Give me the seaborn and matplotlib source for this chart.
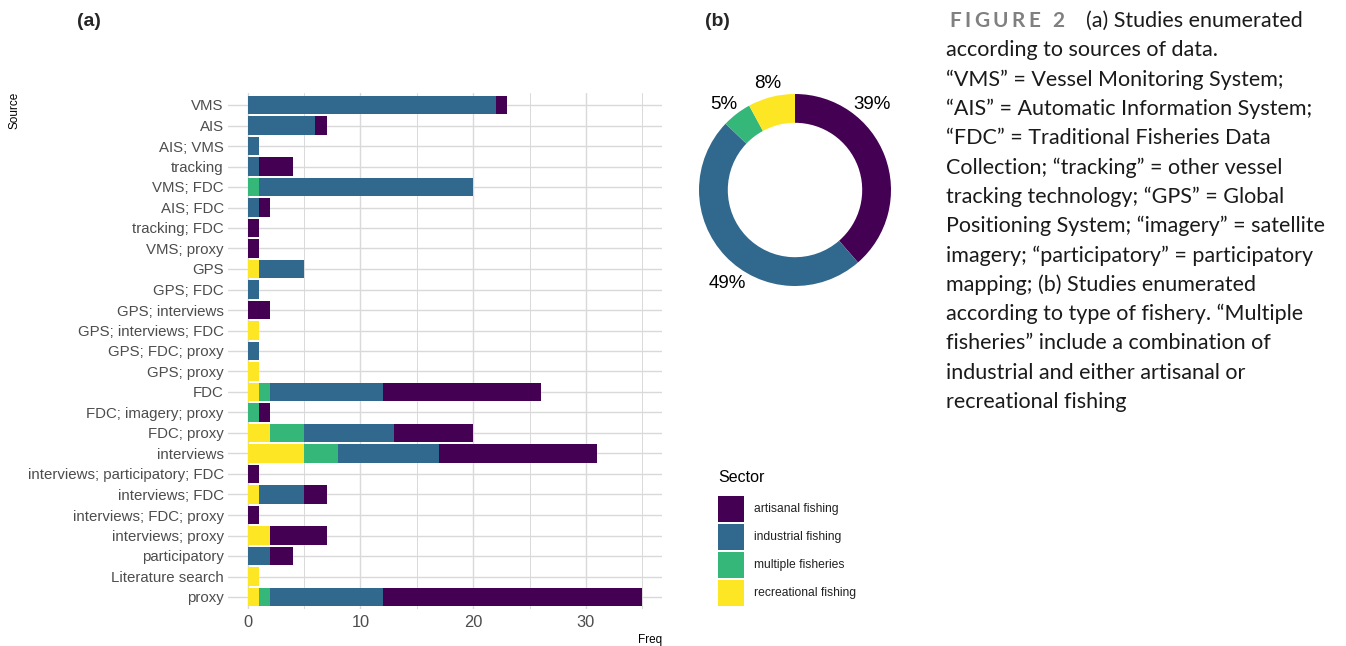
import numpy as np
import pandas as pd
import matplotlib
matplotlib.use("Agg")
import matplotlib.pyplot as plt
from matplotlib.patches import Rectangle
from matplotlib import font_manager
import seaborn as sns

# ---------------- data ----------------
sources = ["VMS", "AIS", "AIS; VMS", "tracking", "VMS; FDC", "AIS; FDC",
           "tracking; FDC", "VMS; proxy", "GPS", "GPS; FDC", "GPS; interviews",
           "GPS; interviews; FDC", "GPS; FDC; proxy", "GPS; proxy", "FDC",
           "FDC; imagery; proxy", "FDC; proxy", "interviews",
           "interviews; participatory; FDC", "interviews; FDC",
           "interviews; FDC; proxy", "interviews; proxy", "participatory",
           "Literature search", "proxy"]
artisanal    = [1, 1, 0, 3, 0, 1, 1, 1, 0, 0, 2, 0, 0, 0, 14, 1, 7, 14, 1, 2, 1, 5, 2, 0, 23]
industrial   = [22, 6, 1, 1, 19, 1, 0, 0, 4, 1, 0, 0, 1, 0, 10, 0, 8, 9, 0, 4, 0, 0, 2, 0, 10]
multiple     = [0, 0, 0, 0, 1, 0, 0, 0, 0, 0, 0, 0, 0, 0, 1, 1, 3, 3, 0, 0, 0, 0, 0, 0, 1]
recreational = [0, 0, 0, 0, 0, 0, 0, 0, 1, 0, 0, 1, 0, 1, 1, 0, 2, 5, 0, 1, 0, 2, 0, 1, 1]

sectors = ["artisanal fishing", "industrial fishing", "multiple fisheries", "recreational fishing"]
sector_pct = [39, 49, 5, 8]
x_ticks = [0, 10, 20, 30]

caption_lines = [
    "(a) Studies enumerated",
    "according to sources of data.",
    "\u201cVMS\u201d = Vessel Monitoring System;",
    "\u201cAIS\u201d = Automatic Information System;",
    "\u201cFDC\u201d = Traditional Fisheries Data",
    "Collection; \u201ctracking\u201d = other vessel",
    "tracking technology; \u201cGPS\u201d = Global",
    "Positioning System; \u201cimagery\u201d = satellite",
    "imagery; \u201cparticipatory\u201d = participatory",
    "mapping; (b) Studies enumerated",
    "according to type of fishery. \u201cMultiple",
    "fisheries\u201d include a combination of",
    "industrial and either artisanal or",
    "recreational fishing",
]

# ---------------- style ----------------
colors = ["#440154", "#31688E", "#35B779", "#FDE725"]
W, H = 1346, 646
sns.set_theme(style="whitegrid")

def has_font(name):
    try:
        font_manager.findfont(font_manager.FontProperties(family=name), fallback_to_default=False)
        return True
    except Exception:
        return False

narrow = has_font("Liberation Sans Narrow")
tick_family = ["Liberation Sans Narrow", "DejaVu Sans"] if narrow else ["Liberation Sans", "DejaVu Sans"]
tick_size = 12.5 if narrow else 10.8
plt.rcParams["font.family"] = ["Liberation Sans", "DejaVu Sans"]

fig = plt.figure(figsize=(W / 100, H / 100), dpi=100)

def fx(px):
    return px / W

def fy(py):
    return 1 - py / H

# ---------------- panel (a) ----------------
ax = fig.add_axes([fx(228), fy(609.3), fx(662 - 228), (609.3 - 92.7) / H])
df = pd.DataFrame({"Source": sources, "artisanal": artisanal, "industrial": industrial,
                   "multiple": multiple, "recreational": recreational})
df["c_rec"] = df["recreational"]
df["c_mult"] = df["c_rec"] + df["multiple"]
df["c_ind"] = df["c_mult"] + df["industrial"]
df["c_art"] = df["c_ind"] + df["artisanal"]

for col, c in zip(["c_art", "c_ind", "c_mult", "c_rec"], colors):
    sns.barplot(data=df, x=col, y="Source", order=sources, orient="h", color=c,
                saturation=1, width=0.9, errorbar=None, ax=ax, linewidth=0, zorder=3)

ax.set_xlim(-1.75, 36.75)
ax.set_ylim(len(sources) - 1 + 0.6, -0.6)
ax.set_xticks(x_ticks)
ax.set_xticks([5, 15, 25, 35], minor=True)
ax.grid(True, which="major", color="#D9D9D9", linewidth=1.0, zorder=0)
ax.grid(True, which="minor", axis="x", color="#D9D9D9", linewidth=0.7, zorder=0)
ax.set_axisbelow(True)
for s in ax.spines.values():
    s.set_visible(False)
ax.tick_params(axis="both", which="both", length=0, colors="#4D4D4D")
ax.tick_params(axis="y", pad=3)
ax.tick_params(axis="x", pad=4)
for lab in ax.get_yticklabels() + ax.get_xticklabels():
    lab.set_family(tick_family)
    lab.set_fontsize(tick_size)
    lab.set_color("#4D4D4D")
for lab in ax.get_xticklabels():
    lab.set_fontsize(tick_size + 1)
ax.set_xlabel("")
ax.set_ylabel("")
ax.set_facecolor("white")

fig.text(fx(662), fy(640), "Freq", ha="right", va="center", fontsize=8.5, color="black")
fig.text(fx(14), fy(92), "Source", ha="center", va="top", rotation=90, fontsize=8.5, color="black")
fig.text(fx(77), fy(22), "(a)", ha="left", va="center", fontsize=14, fontweight="bold")
fig.text(fx(705), fy(22), "(b)", ha="left", va="center", fontsize=14, fontweight="bold")

# ---------------- panel (b) donut ----------------
cx, cy, R = 795, 190, 96
span = 2.5
axp = fig.add_axes([fx(cx - span / 2 * R), fy(cy + span / 2 * R), span * R / W, span * R / H])
axp.pie(sector_pct, colors=colors, startangle=90, counterclock=False, radius=1,
        wedgeprops=dict(width=0.3, linewidth=0))
axp.set_xlim(-span / 2, span / 2)
axp.set_ylim(-span / 2, span / 2)
axp.set_aspect("equal")
axp.axis("off")

tot = sum(sector_pct)
cum = np.cumsum([0] + sector_pct)
label_nudge = [-27.5, -10.5, -2.5, 0]  # degrees, label placement tweak
label_r = [1.2, 1.2, 1.16, 1.15]
for i, p in enumerate(sector_pct):
    mid = (cum[i] + cum[i + 1]) / 2 / tot * 360 + label_nudge[i]
    th = np.deg2rad(mid)
    axp.text(label_r[i] * np.sin(th), label_r[i] * np.cos(th), f"{p}%",
             ha="center", va="center", fontsize=13.5, color="black")

# ---------------- legend (drawn as key boxes + labels) ----------------
fig.text(fx(718), fy(478), "Sector", ha="left", va="center", fontsize=11.5, color="black")
key_top, key_h, key_gap, key_w = 496, 26, 2, 26
for i, (lab, c) in enumerate(zip(sectors, colors)):
    top = key_top + i * (key_h + key_gap)
    fig.add_artist(Rectangle((fx(718), fy(top + key_h)), key_w / W, key_h / H,
                             transform=fig.transFigure, facecolor=c, edgecolor="none"))
    fig.text(fx(754), fy(top + key_h / 2), lab, ha="left", va="center",
             fontsize=8.7, color="#222222")

# ---------------- caption ----------------
cap_family = ["Lato", "DejaVu Sans"]
cap_size = 15.5
x0 = 946
line_h = 29.3
fig.canvas.draw()
renderer = fig.canvas.get_renderer()
# letter-spaced "FIGURE 2"
xp = 949
for ch in "FIGURE 2":
    t = fig.text(fx(xp), fy(21), ch, ha="left", va="center", fontsize=cap_size - 0.5,
                 family=cap_family, fontweight="bold", color="#808080")
    bb = t.get_window_extent(renderer=renderer)
    xp += bb.width + 3.4
for i, line in enumerate(caption_lines):
    xs = 1086 if i == 0 else x0
    fig.text(fx(xs), fy(21 + i * line_h), line, ha="left", va="center",
             fontsize=cap_size, family=cap_family, color="#1a1a1a")

fig.savefig("out.png", dpi=100, facecolor="white")
